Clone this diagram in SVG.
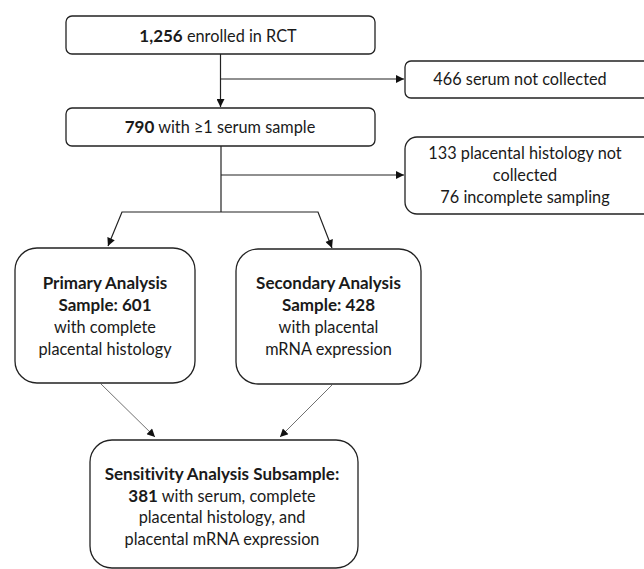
<svg xmlns="http://www.w3.org/2000/svg" width="644" height="569" viewBox="0 0 644 569">
<defs>
<style>
.box{fill:#fff;stroke:#222;stroke-width:1.3}
.t{font-family:Lato,"Liberation Sans",sans-serif;font-size:16.3px;fill:#1a1a1a;text-anchor:middle;font-variant-ligatures:none}
.b{font-weight:bold;font-size:17px}
.c{fill:none;stroke:#222;stroke-width:1.2}
.thin{fill:none;stroke:#333;stroke-width:0.7}
</style>
<marker id="ah" viewBox="0 0 10 10" refX="10" refY="5" markerWidth="10" markerHeight="8" markerUnits="userSpaceOnUse" orient="auto">
<path d="M0,0 L10,5 L0,10 Z" fill="#111"/>
</marker>
</defs>
<rect width="644" height="569" fill="#fff"/>
<g id="connectors">
<line class="c" x1="220.5" y1="54" x2="220.5" y2="107" marker-end="url(#ah)"/>
<line class="c" x1="220.5" y1="79" x2="404" y2="79" marker-end="url(#ah)"/>
<line class="c" x1="221" y1="146" x2="221" y2="212" stroke-width="2"/>
<line class="c" x1="221" y1="175" x2="404" y2="175" marker-end="url(#ah)"/>
<polyline class="c" points="221,212 122,212 108,246" marker-end="url(#ah)"/>
<polyline class="c" points="221,212 318,212 332,248" marker-end="url(#ah)"/>
<line class="thin" x1="101" y1="384" x2="155" y2="437" marker-end="url(#ah)"/>
<line class="thin" x1="332" y1="385" x2="280" y2="437" marker-end="url(#ah)"/>
</g>
<g id="enrolled">
<rect class="box" x="66" y="16" width="309" height="38" rx="6"/>
<text class="t" x="218" y="42"><tspan class="b">1,256</tspan> enrolled in RCT</text>
</g>
<g id="serum-not-collected">
<rect class="box" x="405" y="61" width="260" height="37" rx="6"/>
<text class="t" x="520" y="85">466 serum not collected</text>
</g>
<g id="with-serum">
<rect class="box" x="66" y="108" width="309" height="38" rx="6"/>
<text class="t" x="220" y="133"><tspan class="b">790</tspan> with ≥1 serum sample</text>
</g>
<g id="placental-not-collected">
<rect class="box" x="405" y="137" width="260" height="77" rx="12"/>
<text class="t" x="525" y="159">133 placental histology not</text>
<text class="t" x="525" y="181">collected</text>
<text class="t" x="525" y="203">76 incomplete sampling</text>
</g>
<g id="primary">
<rect class="box" x="15" y="248" width="180" height="135" rx="22"/>
<text class="t b" x="105" y="289">Primary Analysis</text>
<text class="t b" x="105" y="311">Sample: 601</text>
<text class="t" x="105" y="333">with complete</text>
<text class="t" x="105" y="355">placental histology</text>
</g>
<g id="secondary">
<rect class="box" x="236" y="249" width="185" height="135" rx="22"/>
<text class="t b" x="328.5" y="289">Secondary Analysis</text>
<text class="t b" x="328.5" y="311">Sample: 428</text>
<text class="t" x="328.5" y="333">with placental</text>
<text class="t" x="328.5" y="355">mRNA expression</text>
</g>
<g id="sensitivity">
<rect class="box" x="90" y="440" width="268" height="128" rx="22"/>
<text class="t b" x="222" y="480">Sensitivity Analysis Subsample:</text>
<text class="t" x="222" y="502"><tspan class="b">381</tspan> with serum, complete</text>
<text class="t" x="222" y="523">placental histology, and</text>
<text class="t" x="222" y="545">placental mRNA expression</text>
</g>
</svg>
